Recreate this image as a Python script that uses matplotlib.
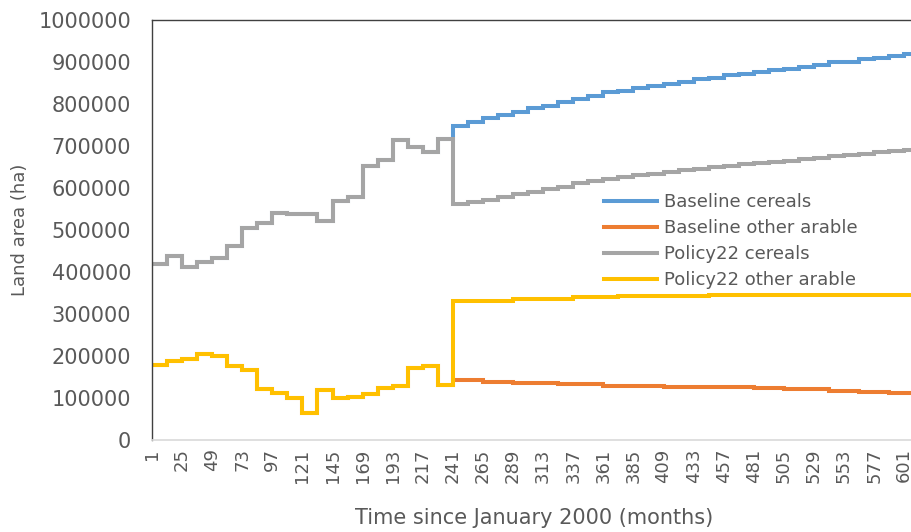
import numpy as np
import matplotlib
matplotlib.use("Agg")
import matplotlib.pyplot as plt
from matplotlib.ticker import FixedLocator, FuncFormatter

W, H, DPI = 912, 532, 100
TXT = "#595959"

# annual land area (ha), one value per year; shared history 2000-2019
hist_cereals = [418000, 438000, 411000, 424000, 434000, 462000, 505000, 517000, 541000, 537000,
                537000, 521000, 569000, 578000, 652000, 666000, 715000, 697000, 686000, 717000]
hist_other = [179000, 188000, 194000, 204000, 201000, 176000, 167000, 121000, 113000, 101000,
              64000, 118000, 99000, 103000, 109000, 125000, 129000, 172000, 176000, 131000]

# projections 2020-2050
base_cereals_proj = [748000, 756000, 766000, 774000, 780000, 790000, 796000, 804000, 813000, 820000,
                     828000, 831000, 839000, 843000, 848000, 853000, 860000, 863000, 868000, 871000,
                     877000, 881000, 883000, 889000, 892000, 899000, 901000, 906000, 909000, 915000,
                     918000]
base_other_proj = [143000, 143000, 139000, 139000, 136500, 136500, 136500, 132500, 132500, 132500,
                   129500, 129500, 129500, 129500, 127000, 127000, 127000, 127000, 127000, 127000,
                   123000, 123000, 120500, 120500, 120500, 117500, 117500, 114500, 114500, 111000,
                   111000]
pol_cereals_proj = [563000, 567000, 571000, 578000, 585000, 591000, 597000, 603000, 611000, 617000,
                    622000, 626000, 630000, 634000, 638000, 642000, 645000, 649000, 652000, 656000,
                    659000, 662000, 665000, 669000, 672000, 676000, 679000, 682000, 685000, 688000,
                    691000]
pol_other_proj = [332000, 332000, 332000, 332000, 336000, 336000, 336000, 336000, 340000, 340000,
                  340000, 343000, 343000, 343000, 343000, 343000, 343000, 346000, 346000, 346000,
                  346000, 346000, 346000, 346000, 346000, 346000, 346000, 346000, 346000, 346000,
                  346000]

series = {
    "Baseline cereals": (hist_cereals + base_cereals_proj, "#5B9BD5"),
    "Baseline other arable": (hist_other + base_other_proj, "#ED7D31"),
    "Policy22 cereals": (hist_cereals + pol_cereals_proj, "#A5A5A5"),
    "Policy22 other arable": (hist_other + pol_other_proj, "#FFC000"),
}

n_years = len(hist_cereals) + len(base_cereals_proj)
last_month = 12 * n_years
year_start = 1 + 12 * np.arange(n_years)
x = np.append(year_start, last_month)

plt.rcParams["font.family"] = "DejaVu Sans"

fig = plt.figure(figsize=(W / DPI, H / DPI), dpi=DPI)
x0, x1, y0, y1 = 152, 918, 440, 20
ax = fig.add_axes([x0 / W, 1 - y0 / H, (x1 - x0) / W, (y0 - y1) / H])

for name, (vals, col) in series.items():
    v = np.append(vals, vals[-1])
    ax.plot(x, v, drawstyle="steps-post", color=col, lw=2.9, label=name,
            solid_joinstyle="miter")

ax.set_xlim(1, last_month)
ax.set_ylim(0, 1000000)
ax.set_yticks(np.arange(0, 1000001, 100000))
ax.yaxis.set_major_formatter(FuncFormatter(lambda v, p: f"{int(v)}"))
ax.xaxis.set_major_locator(FixedLocator(np.arange(1, last_month, 24)))
ax.tick_params(axis="y", length=0, pad=15, labelsize=15, colors=TXT)
ax.tick_params(axis="x", length=0, pad=6, labelsize=13, colors=TXT, labelrotation=90)

for s in ("left", "top"):
    ax.spines[s].set_color("#404040")
    ax.spines[s].set_linewidth(1)
ax.spines["bottom"].set_color("#D9D9D9")
ax.spines["bottom"].set_linewidth(1.2)
ax.spines["right"].set_visible(False)

ax.set_ylabel("Land area (ha)", fontsize=13, color=TXT, labelpad=7)
ax.set_xlabel("Time since January 2000 (months)", fontsize=15, color=TXT, labelpad=8)
ax.xaxis.set_label_coords((534 - x0) / (x1 - x0), -(518 - y0) / (y0 - y1), transform=ax.transAxes)
ax.xaxis.label.set_va("center")

leg = fig.legend(loc="upper left", bbox_to_anchor=(604 / W, 1 - 193 / H), bbox_transform=fig.transFigure,
                 frameon=False, fontsize=13, handlelength=2.95, handletextpad=0.35, labelspacing=0.44,
                 borderpad=0, borderaxespad=0)
for t in leg.get_texts():
    t.set_color(TXT)

fig.savefig("out.png", dpi=DPI)
